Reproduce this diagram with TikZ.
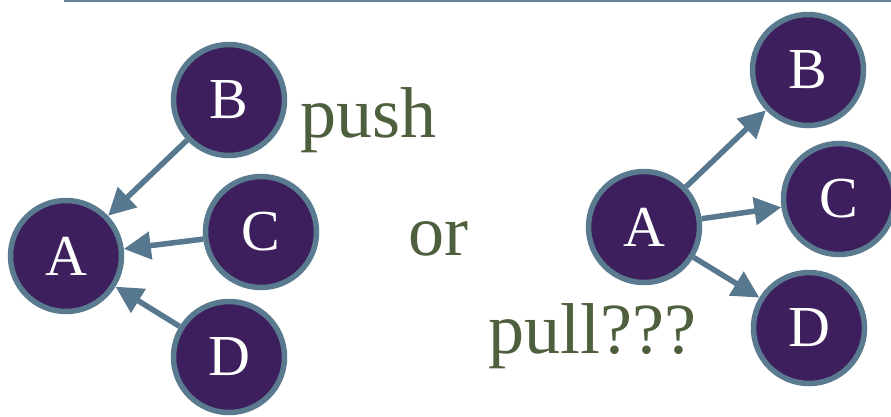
\documentclass[tikz,border=0pt]{standalone}
\usepackage{fontspec}
\setmainfont{Liberation Serif}
\usetikzlibrary{arrows.meta}
\definecolor{nodefill}{HTML}{3C1F5C}
\definecolor{nodeborder}{HTML}{5A7A8F}
\definecolor{arrowcol}{HTML}{587890}
\definecolor{wordcol}{HTML}{4E5F3D}
\definecolor{rulecol}{HTML}{62829A}
\tikzset{
  circnode/.style={circle, draw=nodeborder, fill=nodefill, line width=5.5pt,
    minimum size=111pt, inner sep=0pt, text=white,
    font=\fontsize{58}{58}\selectfont},
  conn/.style={draw=arrowcol, line width=5.5pt, -{Triangle[length=27pt,width=27pt]}},
  word/.style={text=wordcol, inner sep=0pt, anchor=base west, font=\fontsize{72}{72}\selectfont}
}
\begin{document}
\begin{tikzpicture}[x=1pt,y=-1pt]
\useasboundingbox (0,0) rectangle (891,416);
\coordinate (ruleL) at (64,1);
\coordinate (ruleR) at (891,1);
\draw[rulecol, line width=2pt] (ruleL) -- (ruleR);

% left group (push)
\node[circnode] (LA) at (66,256) {A};
\node[circnode] (LB) at (229,100) {B};
\node[circnode] (LC) at (261,232) {C};
\node[circnode] (LD) at (229,357) {D};
\draw[conn] (LB) -- (LA);
\draw[conn] (LC) -- (LA);
\draw[conn] (LD) -- (LA);

% right group (pull)
\node[circnode] (RA) at (644,227) {A};
\node[circnode] (RB) at (808,70) {B};
\node[circnode] (RC) at (839,199) {C};
\node[circnode] (RD) at (809,328) {D};
\draw[conn] (RA) -- (RB);
\draw[conn] (RA) -- (RC);
\draw[conn] (RA) -- (RD);

% words
\node[word] (push) at (300,137) {push};
\node[word] (or) at (408,255) {or};
\node[word] (pull) at (488,353) {pull???};
\end{tikzpicture}
\end{document}
